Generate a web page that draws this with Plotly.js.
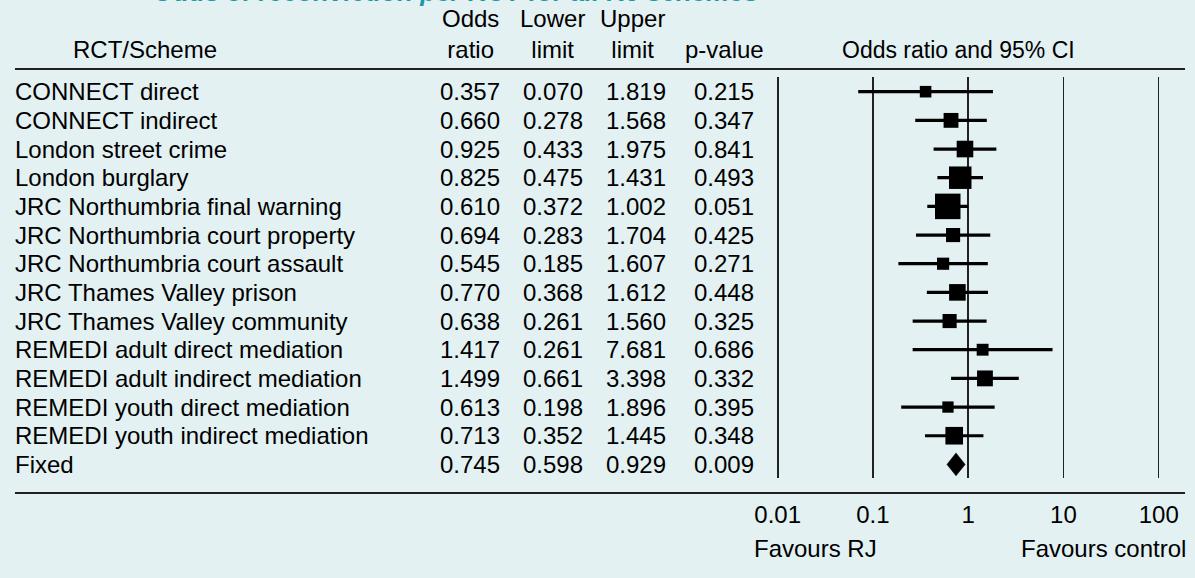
<!DOCTYPE html>
<html>
<head>
<meta charset="utf-8">
<script src="https://cdn.plot.ly/plotly-3.0.1.min.js"></script>
<style>
html,body{margin:0;padding:0;background:#e3f1f3;}
#chart{width:1195px;height:578px;}
</style>
</head>
<body>
<div id="chart"></div>
<script>
// ---------- data ----------
const studies = [
  "CONNECT direct",
  "CONNECT indirect",
  "London street crime",
  "London burglary",
  "JRC Northumbria final warning",
  "JRC Northumbria court property",
  "JRC Northumbria court assault",
  "JRC Thames Valley prison",
  "JRC Thames Valley community",
  "REMEDI adult direct mediation",
  "REMEDI adult indirect mediation",
  "REMEDI youth direct mediation",
  "REMEDI youth indirect mediation",
  "Fixed"
];
const oddsRatio  = [0.357, 0.660, 0.925, 0.825, 0.610, 0.694, 0.545, 0.770, 0.638, 1.417, 1.499, 0.613, 0.713, 0.745];
const lowerLimit = [0.070, 0.278, 0.433, 0.475, 0.372, 0.283, 0.185, 0.368, 0.261, 0.261, 0.661, 0.198, 0.352, 0.598];
const upperLimit = [1.819, 1.568, 1.975, 1.431, 1.002, 1.704, 1.607, 1.612, 1.560, 7.681, 3.398, 1.896, 1.445, 0.929];
const pValue     = [0.215, 0.347, 0.841, 0.493, 0.051, 0.425, 0.271, 0.448, 0.325, 0.686, 0.332, 0.395, 0.348, 0.009];
// relative weights (%) of the individual studies
const relWeight  = [3.9, 6.4, 8.0, 14.7, 18.9, 5.8, 4.3, 8.0, 5.8, 4.1, 7.3, 3.7, 9.0];

const tickVals = [0.01, 0.1, 1, 10, 100];
const tickText = ["0.01", "0.1", "1", "10", "100"];

const headerStudy = "RCT/Scheme";
const headerCols = ["Odds<br>ratio", "Lower<br>limit", "Upper<br>limit", "p-value"];
const headerPlot = "Odds ratio and 95% CI";
const favoursLeft = "Favours RJ";
const favoursRight = "Favours control";
const titleText = "Odds of reconviction per RCT for all RJ schemes";

// ---------- layout helpers ----------
const W = 1195, H = 578;
const px = x => x / W;
const py = y => 1 - y / H;
const FONT = "Liberation Sans, Arial, sans-serif";
const FS = 24;
const n = studies.length;
const rowVal = i => n - 1 - i;

const traces = [];
// CI lines
for (let i = 0; i < n - 1; i++) {
  traces.push({
    type: "scatter", mode: "lines",
    x: [lowerLimit[i], upperLimit[i]], y: [rowVal(i), rowVal(i)],
    line: {color: "#000", width: 3.2}, hoverinfo: "skip", showlegend: false
  });
}
// boxes
const maxW = Math.max(...relWeight);
traces.push({
  type: "scatter", mode: "markers",
  x: oddsRatio.slice(0, n - 1),
  y: studies.slice(0, n - 1).map((s, i) => rowVal(i)),
  marker: {symbol: "square", color: "#000", opacity: 1,
           size: relWeight.map(w => 25.5 * Math.sqrt(w / maxW)),
           line: {width: 0}},
  showlegend: false, hoverinfo: "x"
});
// pooled diamond
const f = n - 1;
traces.push({
  type: "scatter", mode: "lines",
  x: [lowerLimit[f], oddsRatio[f], upperLimit[f], oddsRatio[f], lowerLimit[f]],
  y: [rowVal(f), rowVal(f) + 0.4, rowVal(f), rowVal(f) - 0.4, rowVal(f)],
  fill: "toself", fillcolor: "#000", line: {color: "#000", width: 0.5},
  showlegend: false, hoverinfo: "skip"
});

const annotations = [];
const colRight = [500, 583, 666, 754];
const colFmt = [oddsRatio, lowerLimit, upperLimit, pValue];
for (let i = 0; i < n; i++) {
  annotations.push({xref: "paper", yref: "y", x: px(13), y: rowVal(i), xanchor: "left", yanchor: "middle",
    text: studies[i], showarrow: false, font: {family: FONT, size: FS, color: "#000"}});
  colFmt.forEach((arr, c) => {
    annotations.push({xref: "paper", yref: "y", x: px(colRight[c] + 2), y: rowVal(i), xanchor: "right", yanchor: "middle",
      text: arr[i].toFixed(3), showarrow: false, font: {family: FONT, size: FS, color: "#000"}});
  });
}
// headers
annotations.push({xref: "paper", yref: "paper", x: px(145), y: py(65), xanchor: "center", yanchor: "bottom",
  text: headerStudy, showarrow: false, font: {family: FONT, size: FS, color: "#000"}});
const headCenters = [470, 552, 632, 724];
headerCols.forEach((t, c) => {
  annotations.push({xref: "paper", yref: "paper", x: px(headCenters[c]), y: py(65), xanchor: "center", yanchor: "bottom",
    text: t, showarrow: false, font: {family: FONT, size: FS, color: "#000"}});
});
annotations.push({xref: "paper", yref: "paper", x: px(958), y: py(65), xanchor: "center", yanchor: "bottom",
  text: headerPlot, showarrow: false, font: {family: FONT, size: 23, color: "#000"}});
// favours
annotations.push({xref: "paper", yref: "paper", x: px(752), y: py(548), xanchor: "left", yanchor: "middle",
  text: favoursLeft, showarrow: false, font: {family: FONT, size: FS, color: "#000"}});
annotations.push({xref: "paper", yref: "paper", x: px(1188), y: py(548), xanchor: "right", yanchor: "middle",
  text: favoursRight, showarrow: false, font: {family: FONT, size: FS, color: "#000"}});
// clipped title (only its lower edge shows in the reference)
annotations.push({xref: "paper", yref: "paper", x: px(455), y: py(8.6), xanchor: "center", yanchor: "bottom",
  text: "<b><i>" + titleText + "</i></b>", showarrow: false, font: {family: FONT, size: 26, color: "#1a9aa6"}});

const shapes = [
  {type: "line", xref: "paper", yref: "paper", x0: px(15), x1: px(1185), y0: py(69), y1: py(69), line: {color: "#222", width: 2}},
  {type: "line", xref: "paper", yref: "paper", x0: px(15), x1: px(1185), y0: py(493), y1: py(493), line: {color: "#222", width: 2}}
];

// x: 95.25 px per decade, 0.01 at px 777.7
const decade = 95.25, x001 = 777.7;
const dLeft = 770, dRight = 1166;
const layout = {
  width: W, height: H,
  margin: {l: 0, r: 0, t: 0, b: 0, pad: 0},
  paper_bgcolor: "#e3f1f3", plot_bgcolor: "rgba(0,0,0,0)",
  showlegend: false,
  xaxis: {
    type: "log", domain: [px(dLeft), px(dRight)],
    range: [-2 - (x001 - dLeft) / decade, -2 + (dRight - x001) / decade],
    tickvals: tickVals, ticktext: tickText, ticks: "", ticklabelstandoff: 20,
    showgrid: true, gridcolor: "#222", gridwidth: 1.6, zeroline: false, showline: false,
    tickfont: {family: FONT, size: FS, color: "#000"}, fixedrange: true
  },
  yaxis: {
    domain: [py(478), py(77)],
    range: [-(478 - 464.4) / 28.67, 13 + (91.7 - 77) / 28.67],
    showgrid: false, zeroline: false, showticklabels: false, showline: false, fixedrange: true
  },
  annotations: annotations,
  shapes: shapes
};

Plotly.newPlot("chart", traces, layout, {displayModeBar: false, staticPlot: true});
</script>
</body>
</html>
